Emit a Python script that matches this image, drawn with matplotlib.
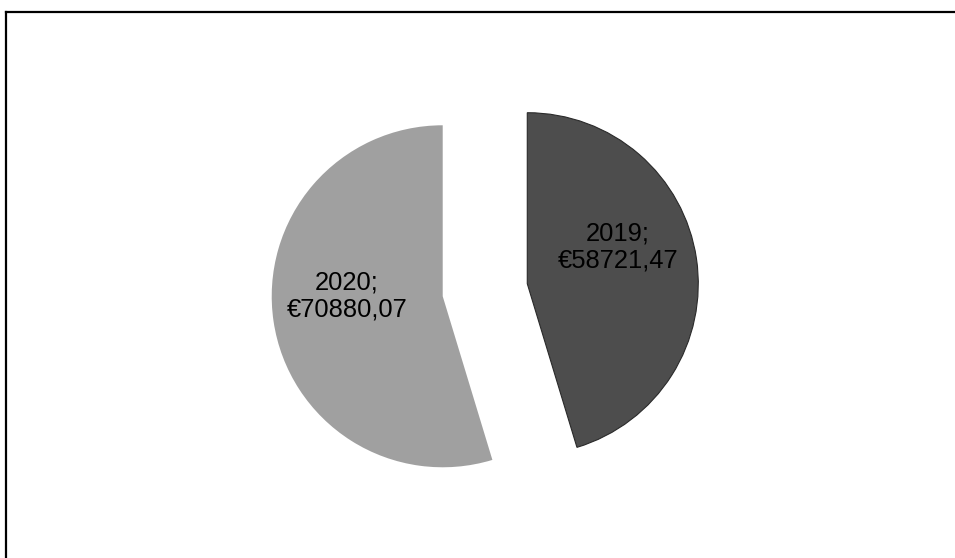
import numpy as np
import matplotlib
matplotlib.use("Agg")
import matplotlib.pyplot as plt
from matplotlib.lines import Line2D

# Data
years = ["2019", "2020"]
amounts = [58721.47, 70880.07]
amount_labels = ["€58721,47", "€70880,07"]

# Styling
colors = ["#4d4d4d", "#a0a0a0"]
explode = [0.25, 0.25]
# label position (angle in degrees, distance as fraction of radius) from each slice's own centre
label_angles = [22, 180]
label_dist = [0.57, 0.56]

plt.rcParams["font.family"] = ["Liberation Sans", "DejaVu Sans"]

fig = plt.figure(figsize=(9.55, 5.58), dpi=100)
ax = fig.add_axes([0, 0, 1, 1])

wedges, _ = ax.pie(amounts, colors=colors, explode=explode, startangle=90,
                   counterclock=False, radius=1.0,
                   wedgeprops=dict(linewidth=0))
wedges[0].set_edgecolor("#2a2a2a")
wedges[0].set_linewidth(0.8)

# data labels, placed relative to each (exploded) slice centre
for w, yr, lab, ang, d in zip(wedges, years, amount_labels, label_angles, label_dist):
    cx, cy = w.center
    a = np.deg2rad(ang)
    ax.text(cx + d * np.cos(a), cy + d * np.sin(a), yr + ";\n" + lab,
            ha="center", va="center", fontsize=18.4, color="black",
            linespacing=1.15)

# map the axes so one radius is ~171 px, pie centre at (485, 290) px
ax.set_aspect("auto")
ax.set_xlim(-485 / 171, (955 - 485) / 171)
ax.set_ylim((290 - 558) / 171, 290 / 171)
ax.axis("off")

# chart border (top and left edges only, as in the scan)
fig.add_artist(Line2D([6.3 / 955, 1], [1 - 11.5 / 558, 1 - 11.5 / 558],
                      transform=fig.transFigure, color="black", lw=1.6))
fig.add_artist(Line2D([6.3 / 955, 6.3 / 955], [0, 1 - 11.5 / 558],
                      transform=fig.transFigure, color="black", lw=1.6))

fig.savefig("out.png", dpi=100)
